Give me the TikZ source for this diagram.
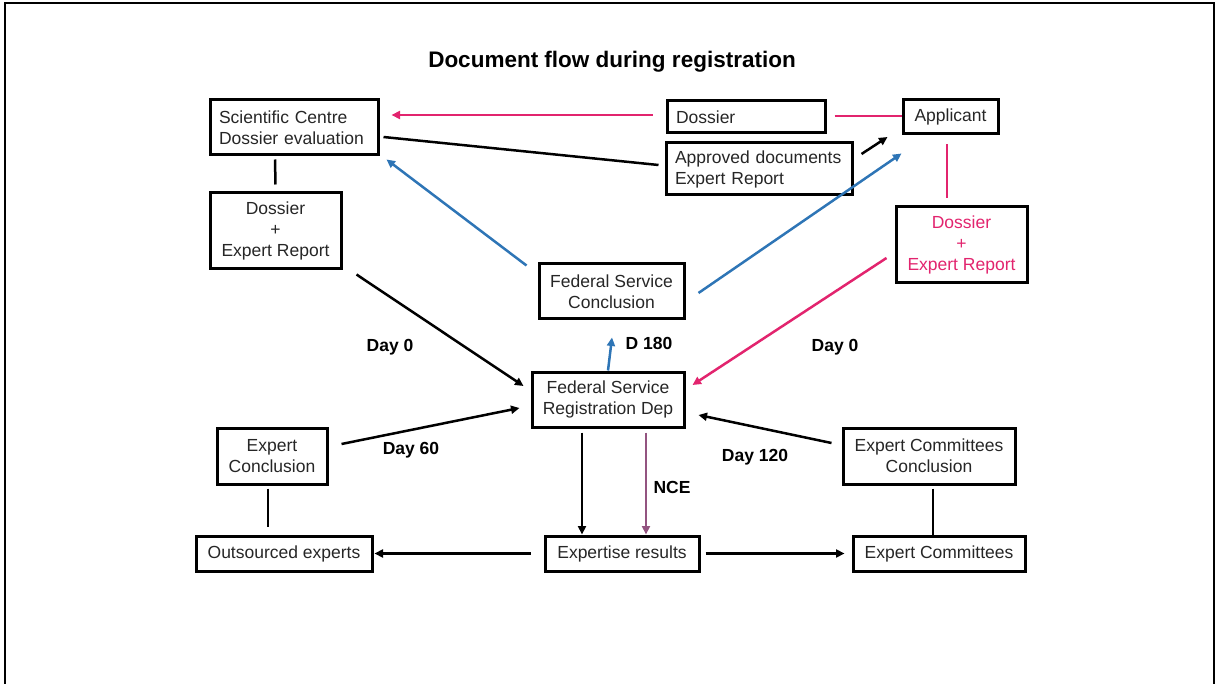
\documentclass[tikz,border=0pt]{standalone}
\usepackage{fontspec}
\setmainfont{Liberation Sans}
\usetikzlibrary{arrows.meta,calc}
\definecolor{txt}{HTML}{262626}
\definecolor{pinkline}{HTML}{E2246E}
\definecolor{blueline}{HTML}{2E75B6}
\definecolor{mauve}{HTML}{935480}
\tikzset{
  box/.style={draw=black, line width=3pt, rectangle, inner sep=0pt, text=txt,
    font=\fontsize{17.5}{21}\selectfont, align=center},
  lbox/.style={box, align=left, inner xsep=9pt},
  lbl/.style={font=\bfseries\fontsize{17.5}{21}\selectfont, text=black, inner sep=0pt},
  conn/.style={line width=2.5pt, line cap=butt},
  arr/.style={conn, -{Triangle[length=8.5pt,width=8pt]}},
}
\begin{document}
\begin{tikzpicture}[x=1pt,y=-1pt]
\useasboundingbox (0,0) rectangle (1217,684);
% outer frame (open at the bottom edge)
\draw[line width=1.6pt] (5,684) -- (5,3) -- (1214,3) -- (1214,684);

\node[font=\bfseries\fontsize{22.5}{26}\selectfont, inner sep=0pt] (title) at (612,62) {Document flow during registration};

% boxes
\node[lbox, text width=150pt, minimum height=55pt] (sci) at (294,127.5) {Scientific Centre\\Dossier evaluation};
\node[lbox, text width=140pt, minimum height=32pt] (dos) at (746,117) {Dossier};
\node[box, minimum width=95pt, minimum height=34pt] (app) at (950.5,117) {Applicant};
\node[lbox, text width=168pt, minimum height=52pt] (appr) at (759,169) {Approved documents\\Expert Report};
\node[box, minimum width=131pt, minimum height=76pt] (dl) at (275.5,231) {Dossier\\+\\Expert Report};
\node[box, minimum width=131pt, minimum height=76pt, text=pinkline] (dr) at (961.5,245) {Dossier\\+\\Expert Report};
\node[box, minimum width=145pt, minimum height=55pt] (fsc) at (611.5,291.5) {Federal Service\\Conclusion};
\node[box, minimum width=152pt, minimum height=55pt] (reg) at (608,399.5) {Federal Service\\Registration Dep};
\node[box, minimum width=110pt, minimum height=56pt] (ec) at (272,456) {Expert\\Conclusion};
\node[box, minimum width=176pt, minimum height=35pt] (out) at (284,553.5) {Outsourced experts};
\node[box, minimum width=154pt, minimum height=35pt] (res) at (622,553.5) {Expertise results};
\node[box, minimum width=172pt, minimum height=56pt] (ecc) at (929,456) {Expert Committees\\Conclusion};
\node[box, minimum width=172pt, minimum height=35pt] (com) at (939,553.5) {Expert Committees};

% labels
\node[lbl] (d0l) at (390,347) {Day 0};
\node[lbl] (d180) at (649,343) {D 180};
\node[lbl] (d0r) at (835,347) {Day 0};
\node[lbl] (d60) at (411,450) {Day 60};
\node[lbl] (d120) at (755,457) {Day 120};
\node[lbl] (nce) at (672,487) {NCE};

% pink: dossier route
\draw[arr, pinkline] ($(dos.west)+(-13,-2)$) -- ($(sci.east)+(12,-12.5)$);
\draw[conn, pinkline] ($(dos.east)+(8,-1)$) -- ($(app.west)+(0,-1)$);
\draw[conn, pinkline] ($(app.south)+(-3.5,9)$) -- ($(dr.north)+(-14.5,-7)$);
\draw[arr, pinkline] ($(dr.west)+(-8,13)$) -- ($(reg.east)+(7,-14.5)$);

% black: approved documents
\draw[conn] ($(sci.east)+(4,9.5)$) -- ($(appr.west)+(-6,-4)$);
\draw[arr] ($(appr.east)+(8,-15)$) -- ($(app.west)+(-14,20)$);

% blue: conclusion
\draw[arr, blueline] ($(fsc.north west)+(-11,3)$) -- ($(sci.south east)+(7,3)$);
\draw[arr, blueline] ($(fsc.east)+(13,1.5)$) -- ($(app.south west)+(0,18)$);
\draw[arr, blueline] (reg.north) -- ($(fsc.south)+(0.5,17)$);

% black: submissions and expertise
\draw[conn] ($(sci.south)+(-19,3)$) -- ($(dl.north)+(0,-7)$);
\draw[arr] ($(dl.south east)+(14,4)$) -- ($(reg.west)+(-7,-13.5)$);
\draw[arr] ($(ec.east)+(13,-12)$) -- ($(reg.west)+(-11,8.5)$);
\draw[conn] ($(ec.south)+(-4,3)$) -- ($(out.north)+(-16,-8)$);
\draw[arr] ($(res.west)+(-13,0)$) -- ($(out.east)+(1,0)$);
\draw[arr] ($(res.east)+(5,0)$) -- ($(com.west)+(-7,0)$);
\draw[arr] ($(reg.south)+(-26,4)$) -- ($(res.north)+(-40,0)$);
\draw[arr, mauve] ($(reg.south)+(38,4)$) -- ($(res.north)+(24,0)$);
\draw[arr] ($(ecc.west)+(-10,-13)$) -- ($(reg.east)+(13,15.5)$);
\draw[conn] ($(ecc.south)+(4,3)$) -- ($(com.north)+(-6,0)$);
\end{tikzpicture}
\end{document}
